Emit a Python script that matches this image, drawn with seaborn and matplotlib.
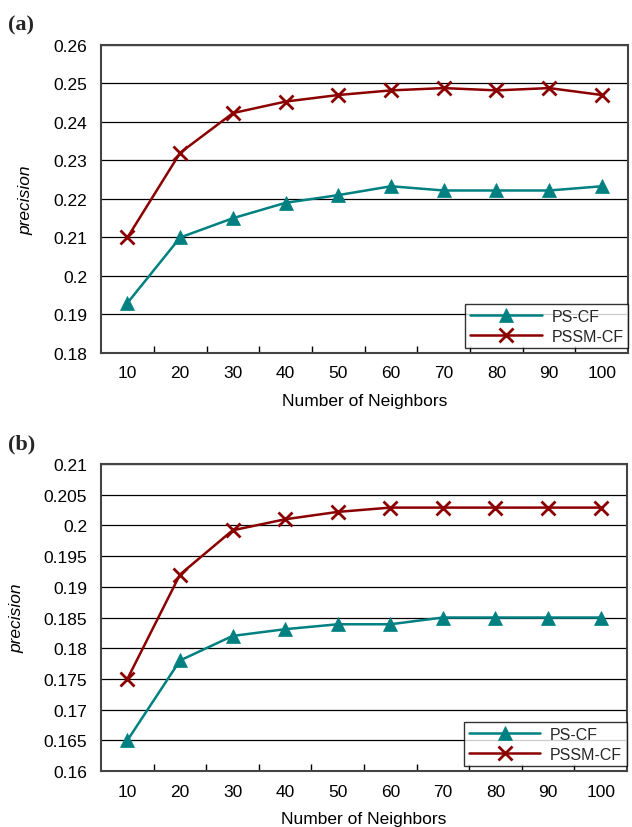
import matplotlib
matplotlib.use("Agg")
import numpy as np
import pandas as pd
import matplotlib.pyplot as plt
import seaborn as sns
from matplotlib.ticker import FuncFormatter, FixedLocator

sns.set_theme(style="white")
plt.rcParams["font.family"] = ["Liberation Sans", "DejaVu Sans"]

neighbors = [10, 20, 30, 40, 50, 60, 70, 80, 90, 100]

# (a)
ps_cf_a = [0.193, 0.210, 0.215, 0.219, 0.221, 0.2233, 0.2222, 0.2222, 0.2222, 0.2233]
pssm_cf_a = [0.210, 0.232, 0.2423, 0.2453, 0.2470, 0.2482, 0.2488, 0.2482, 0.2488, 0.2470]
yticks_a = [0.18, 0.19, 0.20, 0.21, 0.22, 0.23, 0.24, 0.25, 0.26]

# (b)
ps_cf_b = [0.165, 0.178, 0.182, 0.1831, 0.1839, 0.1839, 0.185, 0.185, 0.185, 0.185]
pssm_cf_b = [0.175, 0.192, 0.1992, 0.2010, 0.2022, 0.2029, 0.2029, 0.2029, 0.2029, 0.2029]
yticks_b = [0.16, 0.165, 0.17, 0.175, 0.18, 0.185, 0.19, 0.195, 0.2, 0.205, 0.21]

series_names = ["PS-CF", "PSSM-CF"]
colors = {"PS-CF": "#008080", "PSSM-CF": "#8B0000"}
markers = {"PS-CF": "^", "PSSM-CF": "x"}

fig = plt.figure(figsize=(6.32, 8.28), dpi=100)
ax_a = fig.add_axes([0.160, 0.5725, 0.834, 0.372])
ax_b = fig.add_axes([0.160, 0.0676, 0.832, 0.3708])


def draw(ax, ps, pssm, yticks, label):
    pos = np.arange(1, len(neighbors) + 1)
    df = pd.DataFrame({
        "pos": np.concatenate([pos, pos]),
        "precision": ps + pssm,
        "method": ["PS-CF"] * len(ps) + ["PSSM-CF"] * len(pssm),
    })
    for name in series_names:
        sub = df[df["method"] == name]
        sns.lineplot(data=sub, x="pos", y="precision", ax=ax, color=colors[name],
                     marker=markers[name], markersize=10,
                     markeredgewidth=2 if name == "PSSM-CF" else 0.5,
                     markeredgecolor=colors[name], linewidth=1.8, label=name)
    ax.set_xlim(0.5, len(neighbors) + 0.5)
    ax.set_ylim(yticks[0], yticks[-1])
    ax.set_yticks(yticks)
    ax.yaxis.set_major_formatter(FuncFormatter(lambda v, p: f"{v:g}"))
    ax.set_xticks(pos)
    ax.set_xticklabels([str(n) for n in neighbors])
    ax.xaxis.set_minor_locator(FixedLocator(np.arange(1.5, len(neighbors), 1.0)))
    ax.tick_params(axis="x", which="major", length=0, labelsize=12.5, pad=9, colors="black")
    ax.tick_params(axis="x", which="minor", length=5, width=1, color="black",
                   bottom=True, direction="in")
    ax.tick_params(axis="y", length=0, labelsize=12.5, pad=10, colors="black")
    ax.grid(axis="y", color="black", linewidth=0.9)
    ax.set_axisbelow(True)
    for sp in ax.spines.values():
        sp.set_visible(True)
        sp.set_color("#444444")
        sp.set_linewidth(1.5)
    ax.set_xlabel("Number of Neighbors", fontsize=12.5, color="black", labelpad=9)
    ax.set_ylabel("precision", fontsize=12.5, style="italic", color="black", labelpad=14)
    leg = ax.legend(loc="lower right", bbox_to_anchor=(1.0, 0.015), frameon=True,
                    fancybox=False, fontsize=11.5, borderaxespad=0.0, handlelength=4.5,
                    borderpad=0.3, labelspacing=0.3, handletextpad=0.6)
    leg.get_frame().set_edgecolor("black")
    leg.get_frame().set_linewidth(1.0)
    bb = ax.get_position()
    fig.text(0.013, bb.y1 + 0.025, label, fontsize=16, fontweight="bold",
             family=["Liberation Serif", "DejaVu Serif"], va="center", ha="left")


draw(ax_a, ps_cf_a, pssm_cf_a, yticks_a, "(a)")
draw(ax_b, ps_cf_b, pssm_cf_b, yticks_b, "(b)")

plt.savefig("out.png", dpi=100)
plt.close("all")
